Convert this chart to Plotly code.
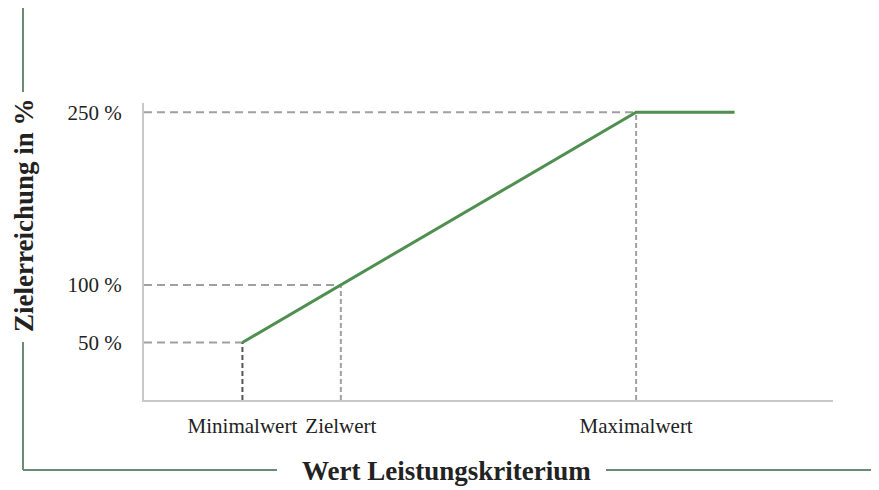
import plotly.graph_objects as go

# Data
x_labels = ["Minimalwert", "Zielwert", "Maximalwert"]
x_points = [1, 2, 5, 6]          # Minimalwert, Zielwert, Maximalwert, end of plateau
y_points = [50, 100, 250, 250]   # Zielerreichung in %
y_ticks = [50, 100, 250]
y_tick_labels = ["50 %", "100 %", "250 %"]
x_range = [0, 7]
y_range = [0, 258]

GREEN = "#4f8f4f"
DASH = "#a0a0a0"
FRAME = "#6b8c72"
FONT = "Liberation Serif"

fig = go.Figure()

# Horizontal dashed guides
for xv, yv in zip(x_points[:3], y_points[:3]):
    fig.add_trace(go.Scatter(x=[x_range[0], xv], y=[yv, yv], mode="lines",
                             line=dict(color=DASH, width=2, dash="8px,5px"),
                             hoverinfo="skip", showlegend=False))
# Vertical dashed guides
for i, (xv, yv) in enumerate(zip(x_points[:3], y_points[:3])):
    col = "#555555" if i == 0 else DASH
    fig.add_trace(go.Scatter(x=[xv, xv], y=[0, yv], mode="lines",
                             line=dict(color=col, width=2, dash="5px,3px"),
                             hoverinfo="skip", showlegend=False))

# Main curve
fig.add_trace(go.Scatter(x=x_points, y=y_points, mode="lines",
                         line=dict(color=GREEN, width=3),
                         hoverinfo="skip", showlegend=False))

# Frame geometry in page pixels (plot area: 144..833 horizontally, 103..400 vertically)
def px(x):
    return (x - 144) / 689.0

def py(y):
    return (400 - y) / 297.0

frame = [
    (23, 7, 23, 92),
    (23, 342, 23, 470),
    (23, 470, 277, 470),
    (606, 470, 879, 470),
]
for x0, y0, x1, y1 in frame:
    fig.add_shape(type="line", xref="paper", yref="paper",
                  x0=px(x0), y0=py(y0), x1=px(x1), y1=py(y1),
                  line=dict(color=FRAME, width=2))

fig.add_annotation(text="<b>Zielerreichung in %</b>", xref="paper", yref="paper",
                   x=px(24), y=py(215), xanchor="center", yanchor="middle",
                   textangle=-90, showarrow=False,
                   font=dict(family=FONT, size=27, color="#222222"))
fig.add_annotation(text="<b>Wert Leistungskriterium</b>", xref="paper", yref="paper",
                   x=px(446), y=py(471), xanchor="center", yanchor="middle",
                   showarrow=False,
                   font=dict(family=FONT, size=27, color="#222222"))

# page has an 8px body margin, so figure is 8px smaller and margins shifted
fig.update_layout(
    width=871, height=482,
    margin=dict(l=136, r=46, t=95, b=90),
    plot_bgcolor="white", paper_bgcolor="white",
    xaxis=dict(range=x_range, tickvals=x_points[:3], ticktext=x_labels,
               showgrid=False, zeroline=False, showline=True,
               linecolor="#c8c8c8", linewidth=2, ticks="",
               ticklabelstandoff=6,
               tickfont=dict(family=FONT, size=21, color="#222222")),
    yaxis=dict(range=y_range, tickvals=y_ticks, ticktext=y_tick_labels,
               showgrid=False, zeroline=False, showline=True,
               linecolor="#c8c8c8", linewidth=2, ticks="",
               ticklabelstandoff=16,
               tickfont=dict(family=FONT, size=21, color="#222222")),
)

fig.write_html("out.html")
